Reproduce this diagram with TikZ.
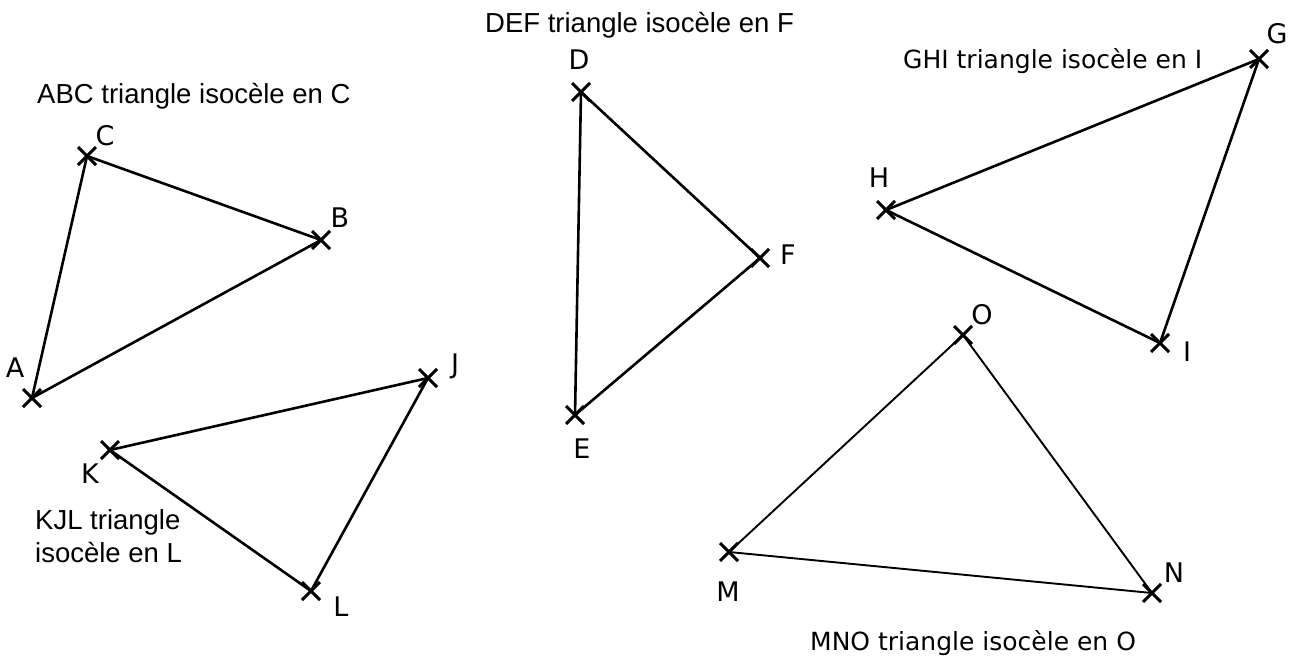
\documentclass[tikz,border=0pt]{standalone}
\usepackage{fontspec}
\newfontfamily\helv{Liberation Sans}
\newfontfamily\lucg{DejaVu Sans}
\usetikzlibrary{shapes.misc}
\tikzset{
  pt/.style={cross out, draw, line width=3pt, minimum size=15pt, inner sep=0pt},
  side/.style={line width=2.6pt},
  thinside/.style={line width=1.9pt},
  lab/.style={inner sep=0pt, anchor=center, font=\lucg\fontsize{27}{32}\selectfont},
  titleh/.style={inner sep=0pt, anchor=base west, align=left, font=\helv\fontsize{27.5}{33}\selectfont},
  titlel/.style={inner sep=0pt, anchor=base west, font=\lucg\fontsize{25}{30}\selectfont},
}
\begin{document}
\begin{tikzpicture}[x=1pt,y=-1pt]
\useasboundingbox (0,0) rectangle (1297,664);
% points
\node[pt] (A) at (32,398) {};
\node[pt] (B) at (321,240) {};
\node[pt] (C) at (87,156) {};
\node[pt] (D) at (581,92) {};
\node[pt] (E) at (575,415) {};
\node[pt] (F) at (760,258) {};
\node[pt] (G) at (1259,59) {};
\node[pt] (H) at (886,210) {};
\node[pt] (I) at (1160,343) {};
\node[pt] (J) at (428,378) {};
\node[pt] (K) at (110,450) {};
\node[pt] (L) at (311,591) {};
\node[pt] (M) at (729,552) {};
\node[pt] (N) at (1152,593) {};
\node[pt] (O) at (963,335) {};
% sides
\draw[side] (A.center) -- (C.center) -- (B.center) -- (A.center);
\draw[side] (D.center) -- (E.center) -- (F.center) -- (D.center);
\draw[side] (G.center) -- (H.center) -- (I.center) -- (G.center);
\draw[side] (J.center) -- (K.center) -- (L.center) -- (J.center);
\draw[thinside] (M.center) -- (N.center) -- (O.center) -- (M.center);
% point labels
\node[lab] (lA) at (15,368) {A};
\node[lab] (lB) at (340,218) {B};
\node[lab] (lC) at (105,136) {C};
\node[lab] (lD) at (579,60) {D};
\node[lab] (lE) at (582,449) {E};
\node[lab] (lF) at (788,255) {F};
\node[lab] (lG) at (1277,34) {G};
\node[lab] (lH) at (879,178) {H};
\node[lab] (lI) at (1187,352) {I};
\node[lab] (lJ) at (455,366) {J};
\node[lab] (lK) at (90,474) {K};
\node[lab] (lL) at (341,607) {L};
\node[lab] (lM) at (728,592) {M};
\node[lab] (lN) at (1174,573) {N};
\node[lab] (lO) at (982,315) {O};
% titles
\node[titleh] (tABC) at (37,103) {ABC triangle isocèle en C};
\node[titleh] (tDEF) at (485,32) {DEF triangle isocèle en F};
\node[titlel] (tGHI) at (903,68) {GHI triangle isocèle en I};
\node[titleh] (tKJL) at (35,562) {KJL triangle\\isocèle en L};
\node[titlel] (tMNO) at (810,650) {MNO triangle isocèle en O};
\end{tikzpicture}
\end{document}
